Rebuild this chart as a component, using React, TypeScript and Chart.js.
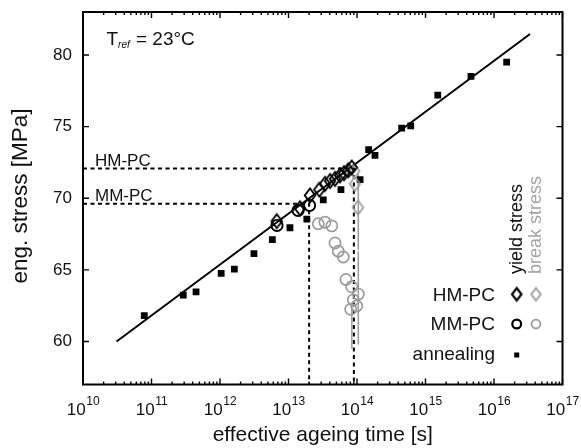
import React, { useEffect, useRef } from "react";
import { Chart, registerables } from "chart.js";
Chart.register(...registerables);

const FONT = '"Liberation Sans", Arial, Helvetica, sans-serif';
const GRAY = "#9b9b9b";

// axis ticks
const xDecades = [10, 11, 12, 13, 14, 15, 16, 17];
const yTickValues = [60, 65, 70, 75, 80];

// annealing data (effective ageing time [s], stress [MPa])
const annealingTime = [7.85e10, 2.91e11, 4.47e11, 1.04e12, 1.62e12, 3.13e12, 5.81e12, 1.05e13, 1.85e13, 3.22e13, 5.83e13, 1.11e14, 1.48e14, 1.83e14, 4.49e14, 6.08e14, 1.51e15, 4.61e15, 1.53e16];
const annealingStress = [61.81, 63.24, 63.47, 64.75, 65.05, 66.14, 67.11, 67.94, 68.55, 69.89, 70.6, 71.3, 73.4, 73.0, 74.9, 75.05, 77.2, 78.5, 79.5];

// HM-PC yield stress
const hmYieldTime = [6.73e12, 1.47e13, 2.06e13, 2.82e13, 3.41e13, 4.04e13, 4.78e13, 5.65e13, 6.46e13, 7.46e13, 8.37e13];
const hmYieldStress = [68.4, 69.3, 70.2, 70.6, 71.0, 71.2, 71.35, 71.6, 71.75, 71.95, 72.15];

// MM-PC yield stress
const mmYieldTime = [6.79e12, 1.38e13, 2.03e13];
const mmYieldStress = [68.1, 69.15, 69.5];

// HM-PC break stress
const hmBreakTime = [9.12e13, 9.33e13, 1.035e14];
const hmBreakStress = [71.9, 71.0, 69.35];

// MM-PC break stress
const mmBreakTime = [2.72e13, 3.41e13, 4.28e13, 4.78e13, 5.33e13, 6.31e13, 6.9e13, 8.37e13, 1.045e14, 8.83e13, 9.91e13, 8.09e13];
const mmBreakStress = [68.22, 68.33, 68.07, 66.88, 66.3, 65.9, 64.33, 63.82, 63.31, 62.9, 62.48, 62.25];

// break stress scatter bars
const errBarTime = [1.045e14, 1.045e14, 8.4e13];
const errBarLow = [66.4, 59.8, 59.5];
const errBarHigh = [71.7, 66.3, 62.6];

// fitted master line
const fitTime = [3.09e10, 3.36e16];
const fitStress = [60.0, 81.46];

// reference levels
const hmRefStress = 72.08;
const hmRefTime = 9e13;
const mmRefStress = 69.61;
const mmRefTime = 2e13;
const xMin = 1e10;
const xMax = 1e17;
const yMin = 57;
const yMax = 83;

const zip = (xs: number[], ys: number[]) => xs.map((x, i) => ({ x, y: ys[i] }));

function makeDiamond(color: string, w: number, h: number, lw: number) {
  const c = document.createElement("canvas");
  c.width = w + lw * 2 + 2;
  c.height = h + lw * 2 + 2;
  const g = c.getContext("2d")!;
  const cx = c.width / 2, cy = c.height / 2;
  g.strokeStyle = color;
  g.lineWidth = lw;
  g.lineJoin = "miter";
  g.beginPath();
  g.moveTo(cx, cy - h / 2);
  g.lineTo(cx + w / 2, cy);
  g.lineTo(cx, cy + h / 2);
  g.lineTo(cx - w / 2, cy);
  g.closePath();
  g.stroke();
  return c;
}

const decorPlugin = {
  id: "decor",
  afterDatasetsDraw(chart: any) {
    const { ctx, chartArea: a } = chart;
    const xs = chart.scales.x;
    const ys = chart.scales.y;
    ctx.save();
    ctx.strokeStyle = "#000";
    ctx.lineWidth = 2;
    ctx.strokeRect(a.left, a.top, a.right - a.left, a.bottom - a.top);
    ctx.lineWidth = 1.4;
    ctx.beginPath();
    xDecades.forEach((e, i) => {
      const p = xs.getPixelForValue(Math.pow(10, e));
      ctx.moveTo(p, a.bottom); ctx.lineTo(p, a.bottom - 6);
      ctx.moveTo(p, a.top); ctx.lineTo(p, a.top + 6);
      if (i < xDecades.length - 1) {
        for (let m = 2; m <= 9; m++) {
          const q = xs.getPixelForValue(m * Math.pow(10, e));
          ctx.moveTo(q, a.bottom); ctx.lineTo(q, a.bottom - 3);
          ctx.moveTo(q, a.top); ctx.lineTo(q, a.top + 3);
        }
      }
    });
    yTickValues.forEach((v) => {
      const p = ys.getPixelForValue(v);
      ctx.moveTo(a.left, p); ctx.lineTo(a.left + 6, p);
      ctx.moveTo(a.right, p); ctx.lineTo(a.right - 6, p);
    });
    ctx.stroke();

    ctx.fillStyle = "#111";
    // y tick labels
    ctx.font = `17px ${FONT}`;
    ctx.textAlign = "right";
    ctx.textBaseline = "middle";
    yTickValues.forEach((v) => ctx.fillText(String(v), a.left - 11, ys.getPixelForValue(v)));

    // x tick labels with superscript
    ctx.textAlign = "left";
    ctx.textBaseline = "alphabetic";
    xDecades.forEach((e) => {
      const p = xs.getPixelForValue(Math.pow(10, e));
      ctx.font = `17px ${FONT}`;
      const wb = ctx.measureText("10").width;
      ctx.font = `12px ${FONT}`;
      const we = ctx.measureText(String(e)).width;
      const left = p - (wb + we) / 2;
      ctx.font = `17px ${FONT}`;
      ctx.fillText("10", left, 415);
      ctx.font = `12px ${FONT}`;
      ctx.fillText(String(e), left + wb + 0.5, 405);
    });

    // axis titles
    ctx.font = `21px ${FONT}`;
    ctx.textAlign = "center";
    ctx.textBaseline = "middle";
    ctx.fillText("effective ageing time [s]", (a.left + a.right) / 2, 435);
    ctx.save();
    ctx.font = `22.5px ${FONT}`;
    ctx.translate(21, 196);
    ctx.rotate(-Math.PI / 2);
    ctx.fillText("eng. stress [MPa]", 0, 0);
    ctx.restore();

    // T_ref annotation
    ctx.textAlign = "left";
    ctx.textBaseline = "alphabetic";
    ctx.font = `19px ${FONT}`;
    ctx.fillText("T", 106.5, 45);
    const wT = ctx.measureText("T").width;
    ctx.font = `italic 10px ${FONT}`;
    ctx.fillText("ref", 106.5 + wT, 48);
    ctx.font = `19px ${FONT}`;
    ctx.fillText("= 23°C", 136, 45);

    // reference labels
    ctx.font = `17px ${FONT}`;
    ctx.fillText("HM-PC", 95, 166);
    ctx.fillText("MM-PC", 95, 200.5);

    // legend
    ctx.font = `19px ${FONT}`;
    ctx.textAlign = "right";
    ctx.fillText("HM-PC", 495, 300.5);
    ctx.fillText("MM-PC", 495, 330);
    ctx.fillText("annealing", 495, 360);

    ctx.font = `18px ${FONT}`;
    ctx.textAlign = "left";
    ctx.save();
    ctx.translate(521.5, 274);
    ctx.rotate(-Math.PI / 2);
    ctx.fillStyle = "#111";
    ctx.fillText("yield stress", 0, 0);
    ctx.restore();
    ctx.save();
    ctx.translate(541, 274);
    ctx.rotate(-Math.PI / 2);
    ctx.fillStyle = "#a3a3a3";
    ctx.fillText("break stress", 0, 0);
    ctx.restore();

    const dB = makeDiamond("#000", 9.5, 12.5, 2.2);
    const dG = makeDiamond(GRAY, 9.5, 12.5, 1.8);
    ctx.drawImage(dB, 516.7 - dB.width / 2, 294.3 - dB.height / 2);
    ctx.drawImage(dG, 536 - dG.width / 2, 294.3 - dG.height / 2);
    ctx.lineWidth = 2.2;
    ctx.strokeStyle = "#000";
    ctx.beginPath(); ctx.arc(516.7, 324, 4.4, 0, Math.PI * 2); ctx.stroke();
    ctx.lineWidth = 1.8;
    ctx.strokeStyle = GRAY;
    ctx.beginPath(); ctx.arc(536, 324, 4.4, 0, Math.PI * 2); ctx.stroke();
    ctx.fillStyle = "#000";
    ctx.fillRect(514.2, 352.5, 5, 5);
    ctx.restore();
  },
};

export default function App() {
  const ref = useRef<HTMLCanvasElement>(null);
  useEffect(() => {
    document.body.style.margin = "0";
    const diamondBlack = makeDiamond("#000", 10.5, 14, 1.9);
    const diamondGray = makeDiamond(GRAY, 10.5, 14, 1.7);
    const lineDs = (data: any[], color: string, width: number, dash: number[] = []) => ({
      type: "line" as const,
      data,
      borderColor: color,
      borderWidth: width,
      borderDash: dash,
      pointRadius: 0,
      showLine: true,
      fill: false,
      tension: 0,
    });
    const datasets: any[] = [
      {
        type: "scatter",
        data: zip(hmYieldTime, hmYieldStress),
        pointStyle: diamondBlack,
      },
      {
        type: "scatter",
        data: zip(mmYieldTime, mmYieldStress),
        pointStyle: "circle",
        pointRadius: 5.6,
        borderColor: "#000",
        backgroundColor: "rgba(0,0,0,0)",
        borderWidth: 1.9,
      },
      {
        type: "scatter",
        data: zip(hmBreakTime, hmBreakStress),
        pointStyle: diamondGray,
      },
      {
        type: "scatter",
        data: zip(mmBreakTime, mmBreakStress),
        pointStyle: "circle",
        pointRadius: 5.6,
        borderColor: GRAY,
        backgroundColor: "rgba(0,0,0,0)",
        borderWidth: 1.7,
      },
      {
        type: "scatter",
        data: zip(annealingTime, annealingStress),
        pointStyle: "rect",
        pointRadius: 4.8,
        borderWidth: 0,
        backgroundColor: "#000",
        borderColor: "#000",
      },
      lineDs(zip(fitTime, fitStress), "#000", 2),
      lineDs([{ x: xMin, y: hmRefStress }, { x: hmRefTime, y: hmRefStress }, { x: hmRefTime, y: yMin }], "#000", 2, [4, 3.5]),
      lineDs([{ x: xMin, y: mmRefStress }, { x: mmRefTime, y: mmRefStress }, { x: mmRefTime, y: yMin }], "#000", 2, [4, 3.5]),
      ...errBarTime.map((t, i) => lineDs([{ x: t, y: errBarLow[i] }, { x: t, y: errBarHigh[i] }], GRAY, 1.5)),
    ];
    const chart = new Chart(ref.current!, {
      type: "scatter",
      data: { datasets },
      options: {
        animation: false,
        responsive: false,
        devicePixelRatio: 1,
        layout: { padding: { left: 83, right: 18.5, top: 12, bottom: 63.5 } },
        plugins: { legend: { display: false }, tooltip: { enabled: false } },
        scales: {
          x: { type: "logarithmic", min: xMin, max: xMax, display: false },
          y: { type: "linear", min: yMin, max: yMax, display: false },
        },
      } as any,
      plugins: [decorPlugin],
    });
    return () => chart.destroy();
  }, []);
  return (
    <div style={{ width: 581, height: 448, background: "#fff" }}>
      <canvas ref={ref} width={581} height={448} style={{ display: "block" }} />
    </div>
  );
}
